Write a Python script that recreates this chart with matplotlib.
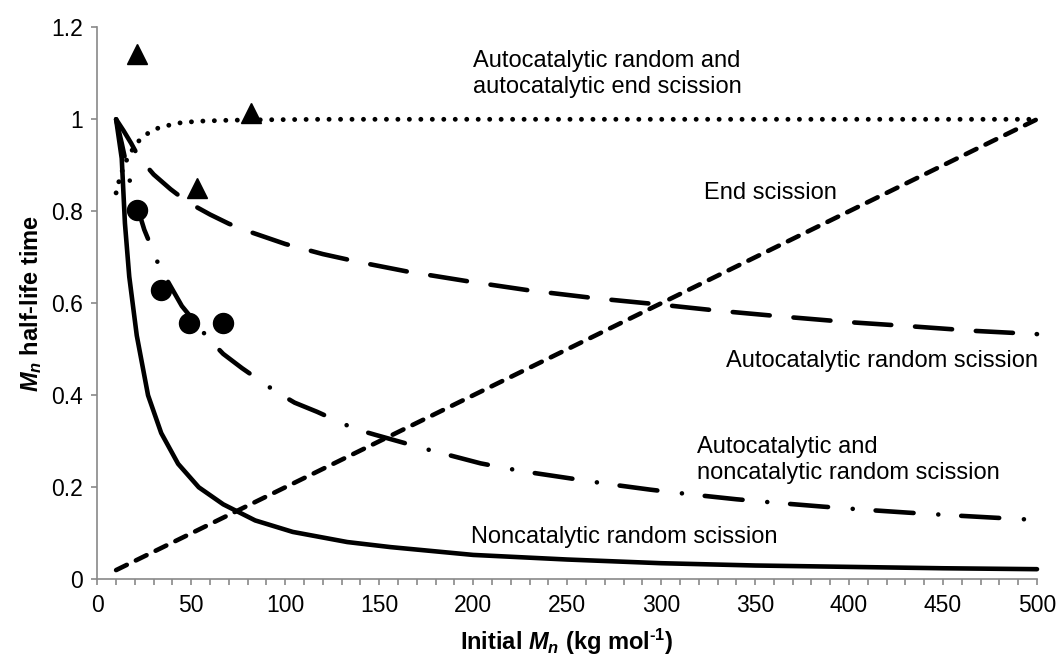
import matplotlib
matplotlib.use("Agg")
import matplotlib.pyplot as plt
from matplotlib.ticker import MultipleLocator, FuncFormatter

plt.rcParams['font.family'] = ['Liberation Sans', 'DejaVu Sans']
plt.rcParams['mathtext.fontset'] = 'custom'
plt.rcParams['mathtext.rm'] = 'Liberation Sans:bold'
plt.rcParams['mathtext.it'] = 'Liberation Sans:italic:bold'
plt.rcParams['mathtext.bf'] = 'Liberation Sans:bold'

# Noncatalytic random scission
x_noncat = [10, 13, 14.7, 17, 21, 27, 34, 43, 54, 67, 84, 104, 133, 156, 200, 250, 300, 350, 400, 450, 500]
y_noncat = [1.0, 0.915, 0.774, 0.658, 0.53, 0.40, 0.318, 0.251, 0.200, 0.163, 0.128, 0.103, 0.081, 0.070,
            0.053, 0.043, 0.035, 0.030, 0.027, 0.024, 0.022]

# Autocatalytic and noncatalytic random scission
x_auto_noncat = [10, 13, 18, 25, 33, 45, 59, 67, 77, 95, 105, 117, 137, 148, 175, 204, 226, 249, 272,
                 294, 317, 340, 362, 386, 409, 431, 455, 477, 500]
y_auto_noncat = [1.0, 0.948, 0.853, 0.76, 0.68, 0.594, 0.524, 0.49, 0.459, 0.408, 0.384, 0.364, 0.327,
                 0.314, 0.283, 0.252, 0.235, 0.221, 0.207, 0.195, 0.184, 0.174, 0.166, 0.158, 0.151,
                 0.145, 0.139, 0.134, 0.129]

# Autocatalytic random scission
x_auto = [10, 14, 18, 22, 30, 39, 48, 60, 70, 80, 100, 120, 140, 165, 200, 230, 265, 300, 330, 365,
          400, 433, 467, 500]
y_auto = [1.0, 0.975, 0.948, 0.918, 0.88, 0.848, 0.82, 0.793, 0.773, 0.757, 0.729, 0.707, 0.689, 0.669,
          0.646, 0.628, 0.611, 0.597, 0.584, 0.571, 0.559, 0.550, 0.540, 0.533]

# Autocatalytic random and autocatalytic end scission
x_auto_end = [10, 12, 14, 16, 19, 22.5, 28, 33, 39, 45, 55, 70, 90, 120, 200, 300, 400, 500]
y_auto_end = [0.84, 0.873, 0.897, 0.915, 0.936, 0.955, 0.973, 0.982, 0.988, 0.993, 0.996, 0.998,
              0.999, 1.0, 1.0, 1.0, 1.0, 1.0]

# End scission
x_end = [10, 500]
y_end = [0.02, 1.0]

# Experimental points
x_circles = [21, 34, 49, 67]
y_circles = [0.803, 0.629, 0.557, 0.557]
x_triangles = [21, 53, 82]
y_triangles = [1.143, 0.85, 1.014]

x_ticks = [0, 50, 100, 150, 200, 250, 300, 350, 400, 450, 500]
y_ticks = [0, 0.2, 0.4, 0.6, 0.8, 1.0, 1.2]

W, H = 1059, 657
fig = plt.figure(figsize=(W / 100, H / 100), dpi=100)
x0, x1, y0, y1 = 97.3, 1037.0, 579.3, 27.3
ax = fig.add_axes([x0 / W, 1 - y0 / H, (x1 - x0) / W, (y0 - y1) / H])

lw = 3.3
ax.plot(x_noncat, y_noncat, color='black', lw=lw, solid_capstyle='round',
        solid_joinstyle='round', clip_on=False, zorder=3)
ax.plot(x_auto_noncat, y_auto_noncat, color='black', lw=lw, linestyle=(0, (8.3, 5.4, 0.01, 5.0)),
        dash_capstyle='round', clip_on=False, zorder=3)
ax.plot(x_auto, y_auto, color='black', lw=lw, linestyle=(0, (8.1, 5.2)),
        dash_capstyle='round', clip_on=False, zorder=3)
ax.plot(x_auto_end, y_auto_end, color='black', lw=3.5, linestyle=(0, (0.01, 2.35)),
        dash_capstyle='round', clip_on=False, zorder=3)
ax.plot(x_end, y_end, color='black', lw=lw, linestyle=(0, (2.6, 2.2)),
        dash_capstyle='round', clip_on=False, zorder=3)

ax.plot(x_circles, y_circles, linestyle='none', marker='o', ms=14.4, color='black',
        clip_on=False, zorder=4)
ax.plot(x_triangles, y_triangles, linestyle='none', marker='^', ms=14.4, color='black',
        clip_on=False, zorder=4)

ax.set_xlim(0, 500)
ax.set_ylim(0, 1.2)
ax.set_xticks(x_ticks)
ax.set_yticks(y_ticks)
ax.xaxis.set_minor_locator(MultipleLocator(10))
ax.yaxis.set_major_formatter(FuncFormatter(lambda v, p: '%g' % round(v, 2)))

grey = '#898989'
for side in ('top', 'right'):
    ax.spines[side].set_visible(False)
for side in ('left', 'bottom'):
    ax.spines[side].set_color(grey)
    ax.spines[side].set_linewidth(1.2)

ax.tick_params(axis='both', which='both', direction='out', color=grey, width=1.2,
               length=4.3, labelsize=16.5, labelcolor='black')
ax.tick_params(axis='x', which='major', pad=6)
ax.tick_params(axis='y', which='major', pad=6)

ax.set_xlabel('Initial $M_n$ (kg mol$^{\u2010 1}$)', fontsize=17, fontweight='bold')
ax.xaxis.label.set_va('baseline')
ax.xaxis.set_label_coords(0.5, (y0 - 650) / (y0 - y1))
ax.set_ylabel(r'$M_n$ half-life time', fontsize=17, fontweight='bold')
ax.yaxis.label.set_va('center')
ax.yaxis.set_label_coords((31 - x0) / (x1 - x0), 0.5)

txt = dict(fontsize=17, color='black', ha='left', va='baseline', linespacing=1.25)
ax.text(200, 1.0565, 'Autocatalytic random and\nautocatalytic end scission', **txt)
ax.text(323, 0.826, 'End scission', **txt)
ax.text(334.5, 0.462, 'Autocatalytic random scission', **txt)
ax.text(319, 0.217, 'Autocatalytic and\nnoncatalytic random scission', **txt)
ax.text(199, 0.079, 'Noncatalytic random scission', **txt)

fig.savefig('out.png', dpi=100)
